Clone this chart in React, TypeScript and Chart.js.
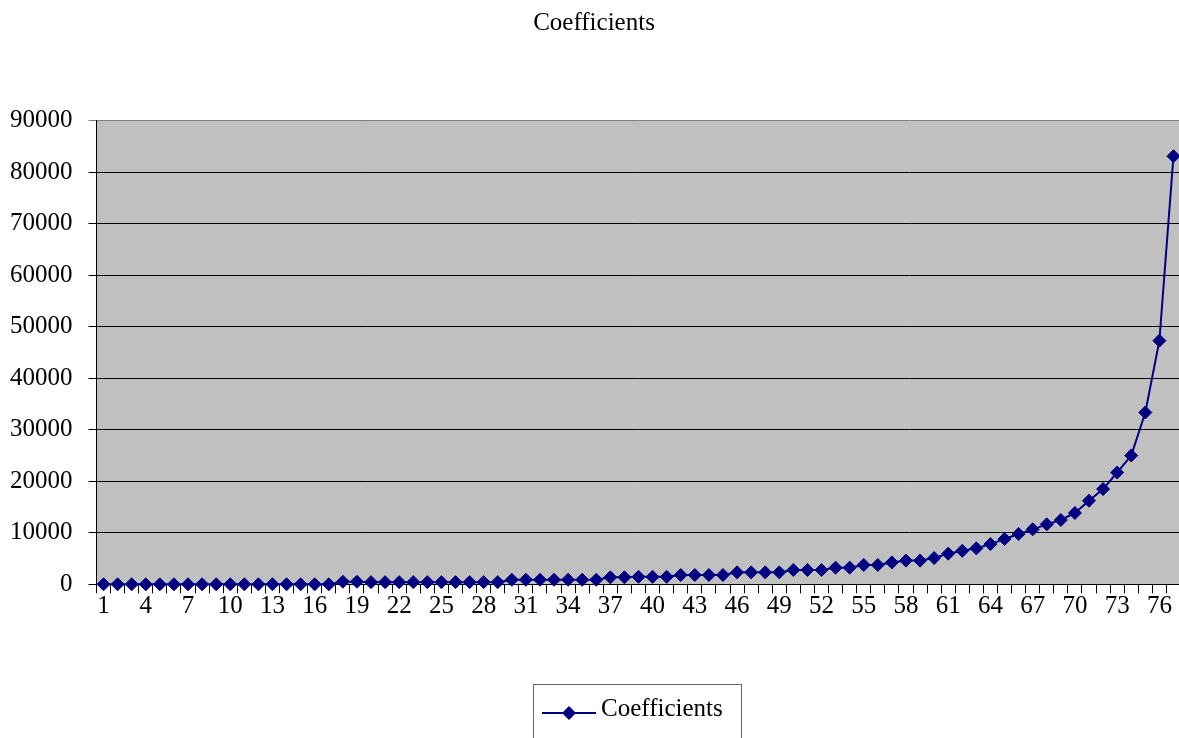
import React, { useEffect, useRef } from "react";
import { Chart, registerables } from "chart.js";

Chart.register(...registerables);

const categories: string[] = [
  "1","2","3","4","5","6","7","8","9","10","11","12","13","14","15","16","17","18","19","20",
  "21","22","23","24","25","26","27","28","29","30","31","32","33","34","35","36","37","38","39","40",
  "41","42","43","44","45","46","47","48","49","50","51","52","53","54","55","56","57","58","59","60",
  "61","62","63","64","65","66","67","68","69","70","71","72","73","74","75","76","77",
];

const coefficients: number[] = [
  0, 0, 0, 0, 0, 0, 0, 0, 0, 0, 0, 0, 0, 0, 0, 0, 0,
  500, 500,
  420, 420, 420, 420, 420, 420, 420, 420, 420, 420,
  880, 880, 880, 880, 880, 880, 880,
  1350, 1350, 1450, 1450, 1450,
  1800, 1800, 1800, 1800,
  2320, 2320, 2320, 2320,
  2780, 2780, 2780,
  3230, 3230,
  3750, 3750,
  4250,
  4600, 4600,
  5100, 5950, 6500, 6980, 7800, 8790, 9760, 10670, 11640, 12480, 13850,
  16230, 18490, 21700, 25000, 33360, 47300, 83100,
];

const yTicks: number[] = [0, 10000, 20000, 30000, 40000, 50000, 60000, 70000, 80000, 90000];

const TITLE = "Coefficients";
const SERIES = "Coefficients";
const FONT = "'Liberation Serif', 'Times New Roman', serif";
const NAVY = "#000080";

const plotBg = {
  id: "plotBg",
  beforeDraw(chart: any) {
    const { ctx, chartArea } = chart;
    ctx.save();
    ctx.fillStyle = "#C0C0C0";
    ctx.fillRect(chartArea.left, chartArea.top, chartArea.right - chartArea.left, chartArea.bottom - chartArea.top);
    ctx.restore();
  },
};

const boxLegend = {
  id: "boxLegend",
  afterDraw(chart: any) {
    const ctx = chart.ctx;
    ctx.save();
    ctx.strokeStyle = "#666666";
    ctx.lineWidth = 1;
    ctx.strokeRect(533.5, 684.5, 208, 70);
    ctx.strokeStyle = NAVY;
    ctx.lineWidth = 2;
    ctx.beginPath();
    ctx.moveTo(542, 713);
    ctx.lineTo(596, 713);
    ctx.stroke();
    ctx.fillStyle = NAVY;
    ctx.beginPath();
    ctx.moveTo(569, 706);
    ctx.lineTo(576, 713);
    ctx.lineTo(569, 720);
    ctx.lineTo(562, 713);
    ctx.closePath();
    ctx.fill();
    ctx.fillStyle = "#000";
    ctx.font = `25px ${FONT}`;
    ctx.textBaseline = "alphabetic";
    ctx.textAlign = "left";
    ctx.fillText(SERIES, 601, 716);
    ctx.restore();
  },
};

export default function App() {
  const ref = useRef<HTMLCanvasElement | null>(null);

  useEffect(() => {
    if (!ref.current) return;
    const chart = new Chart(ref.current, {
      type: "line",
      data: {
        labels: categories,
        datasets: [
          {
            label: SERIES,
            data: coefficients,
            borderColor: NAVY,
            backgroundColor: NAVY,
            borderWidth: 2,
            pointStyle: "rectRot",
            pointRadius: 6.5,
            pointBorderWidth: 1,
            pointBorderColor: NAVY,
            pointBackgroundColor: NAVY,
            tension: 0,
            clip: false as any,
          },
        ],
      },
      options: {
        animation: false,
        responsive: false,
        maintainAspectRatio: false,
        layout: { padding: { left: 0, right: 0, top: 0, bottom: 103.7 } },
        plugins: {
          legend: { display: false },
          tooltip: { enabled: false },
          title: {
            display: true,
            text: TITLE,
            color: "#000",
            font: { family: FONT, size: 25, weight: "normal" as any },
            padding: { top: 8, bottom: 82.7 },
          },
        },
        scales: {
          x: {
            type: "category",
            offset: true,
            grid: {
              display: true,
              offset: true,
              drawOnChartArea: false,
              drawTicks: true,
              tickLength: 9,
              color: "#000",
            },
            border: { display: true, color: "#000", width: 1 },
            ticks: {
              autoSkip: false,
              maxRotation: 0,
              minRotation: 0,
              padding: -2,
              color: "#000",
              font: { family: FONT, size: 25 },
              callback: (_v: any, i: number) => (i % 3 === 0 ? categories[i] : ""),
            },
            afterFit: (s: any) => {
              s.height = 50;
            },
          },
          y: {
            min: 0,
            max: 90000,
            afterBuildTicks: (s: any) => {
              s.ticks = yTicks.map((v) => ({ value: v }));
            },
            grid: {
              display: true,
              drawTicks: true,
              tickLength: 8,
              color: (c: any) => (c.tick && c.tick.value === 90000 ? "#808080" : "#000"),
            },
            border: { display: true, color: "#000", width: 1 },
            ticks: {
              padding: 16,
              color: "#000",
              font: { family: FONT, size: 25 },
              callback: (v: any) => String(v),
            },
            afterFit: (s: any) => {
              s.width = 96.5;
            },
          },
        },
      },
      plugins: [plotBg, boxLegend],
    });
    return () => chart.destroy();
  }, []);

  return (
    <div style={{ position: "absolute", left: 0, top: 0, width: 1179, height: 738, overflow: "hidden", background: "#fff" }}>
      <canvas ref={ref} width={1188} height={738} style={{ display: "block", width: 1188, height: 738 }} />
    </div>
  );
}
